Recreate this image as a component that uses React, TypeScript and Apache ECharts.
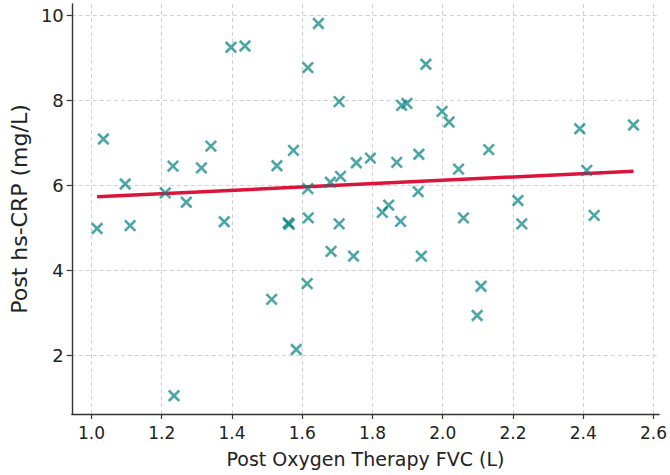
import React, { useEffect, useRef } from "react";
import * as echarts from "echarts";

const fvc = [
  1.016, 1.034, 1.096, 1.11, 1.21, 1.232, 1.235, 1.27, 1.313, 1.34,
  1.378, 1.397, 1.437, 1.513, 1.528, 1.56, 1.563, 1.575, 1.583, 1.614,
  1.616, 1.616, 1.617, 1.646, 1.68, 1.682, 1.705, 1.705, 1.709, 1.746,
  1.754, 1.794, 1.828, 1.846, 1.869, 1.88, 1.883, 1.898, 1.93, 1.932,
  1.939, 1.952, 1.998, 2.018, 2.045, 2.059, 2.098, 2.109, 2.131, 2.214,
  2.225, 2.39, 2.41, 2.431, 2.543,
];
const crp = [
  4.98, 7.09, 6.03, 5.05, 5.82, 6.45, 1.04, 5.6, 6.41, 6.92,
  5.14, 9.25, 9.28, 3.31, 6.46, 5.11, 5.08, 6.82, 2.13, 3.68,
  8.77, 5.92, 5.23, 9.81, 6.07, 4.44, 7.97, 5.09, 6.21, 4.33,
  6.53, 6.64, 5.36, 5.53, 6.54, 5.15, 7.88, 7.93, 5.85, 6.73,
  4.33, 8.85, 7.74, 7.49, 6.38, 5.23, 2.93, 3.62, 6.84, 5.64,
  5.09, 7.33, 6.35, 5.29, 7.42,
];
const trendX = [1.016, 2.543];
const trendY = [5.73, 6.33];
const xTicks = [1.0, 1.2, 1.4, 1.6, 1.8, 2.0, 2.2, 2.4, 2.6];
const yTicks = [2, 4, 6, 8, 10];

export default function App() {
  const ref = useRef<HTMLDivElement>(null);
  useEffect(() => {
    if (!ref.current) return;
    const chart = echarts.init(ref.current, null, { renderer: "svg" });
    const font = "DejaVu Sans";
    const splitLine = {
      show: true,
      lineStyle: { color: "#d0d0d0", type: [4, 3] as any, width: 1 },
    };
    const axisLine = { show: true, onZero: false, lineStyle: { color: "#333", width: 1.4 } };
    chart.setOption({
      animation: false,
      backgroundColor: "#fff",
      grid: { left: 69, right: 10, top: 4, bottom: 61, containLabel: false },
      xAxis: {
        type: "value",
        min: 0.944,
        max: 2.616,
        name: "Post Oxygen Therapy FVC (L)",
        nameLocation: "middle",
        nameGap: 35,
        nameTextStyle: { fontFamily: font, fontSize: 19, color: "#222" },
        axisLine,
        axisTick: { show: true, length: 5, customValues: xTicks, lineStyle: { color: "#333", width: 1.2 } },
        axisLabel: {
          customValues: xTicks,
          formatter: (v: number) => v.toFixed(1),
          fontFamily: font,
          fontSize: 17,
          color: "#222",
          margin: 10,
        },
        splitLine,
      },
      yAxis: {
        type: "value",
        min: 0.61,
        max: 10.27,
        name: "Post hs-CRP (mg/L)",
        nameLocation: "middle",
        nameGap: 37,
        nameTextStyle: { fontFamily: font, fontSize: 22, color: "#222" },
        axisLine,
        axisTick: { show: true, length: 5, customValues: yTicks, lineStyle: { color: "#333", width: 1.2 } },
        axisLabel: {
          customValues: yTicks,
          fontFamily: font,
          fontSize: 18,
          color: "#222",
          margin: 8,
        },
        splitLine,
      },
      series: [
        {
          type: "line",
          data: trendX.map((x, i) => [x, trendY[i]]),
          showSymbol: false,
          symbol: "none",
          lineStyle: { color: "#DC143C", width: 3.5 },
          z: 2,
        },
        {
          type: "scatter",
          data: fvc.map((x, i) => [x, crp[i]]),
          symbol: "path://M0,0L10,10M0,10L10,0",
          symbolSize: 10.5,
          itemStyle: { color: "transparent", borderColor: "#008080", borderWidth: 2.6, opacity: 0.7 },
          z: 3,
        },
      ],
    });
    return () => chart.dispose();
  }, []);
  return (
    <div
      ref={ref}
      style={{ position: "fixed", left: 0, top: 0, width: 670, height: 475 }}
    />
  );
}
